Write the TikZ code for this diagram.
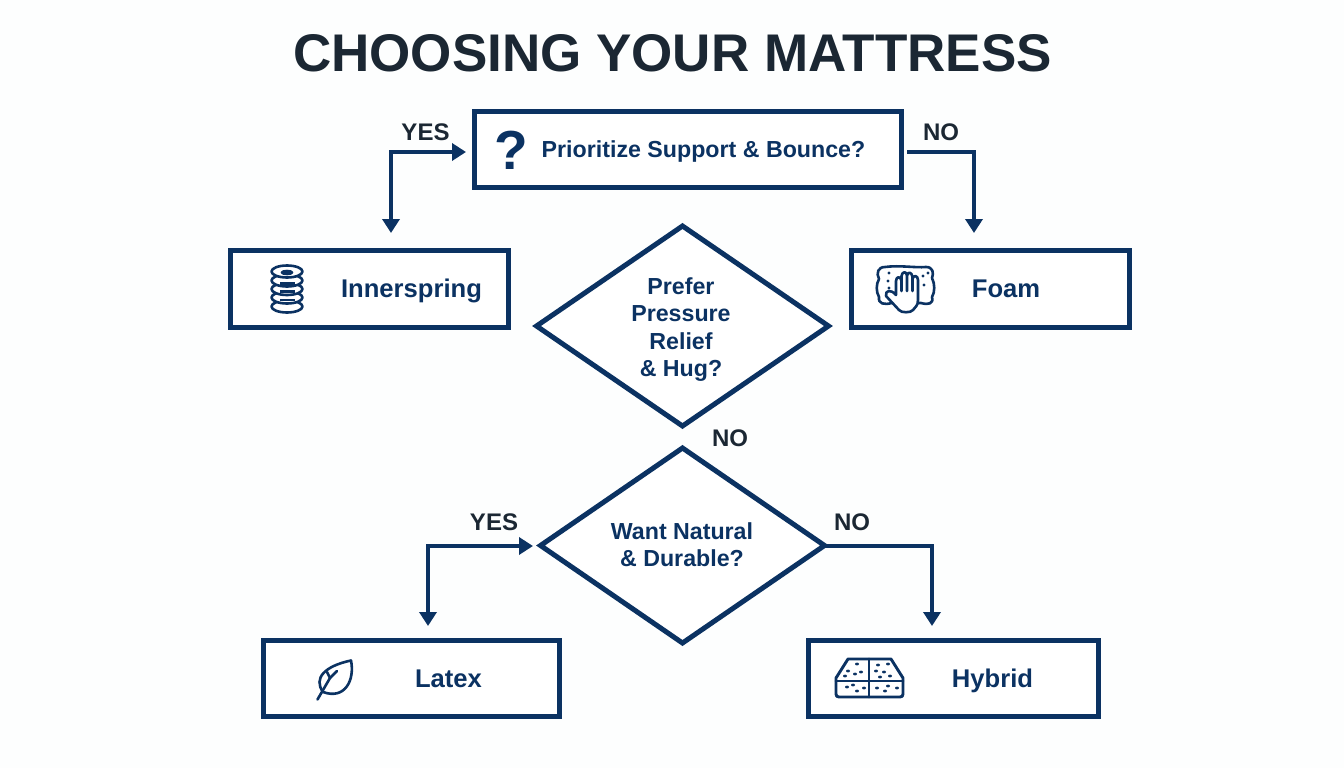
\documentclass[tikz,border=0pt]{standalone}
\usepackage{fontspec}
\setmainfont{Liberation Sans}
\usetikzlibrary{shapes.geometric,arrows.meta}
\definecolor{navy}{HTML}{0B3262}
\definecolor{ink}{HTML}{1B2733}
\definecolor{paper}{HTML}{FDFEFE}
\newcommand{\fs}[1]{\fontsize{#1}{#1}\selectfont\bfseries}
\tikzset{
  x=1pt,y=-1pt,
  box/.style={draw=navy,line width=5pt,fill=white,rectangle,inner sep=0pt,outer sep=0pt,text=navy},
  choice/.style={draw=navy,line width=5pt,fill=white,diamond,inner sep=0pt,outer sep=0pt,align=center,text=navy,aspect=1.45},
  tag/.style={text=ink,inner sep=0pt,font=\fs{24}},
  label/.style={text=navy,inner sep=0pt,anchor=base,font=\fs{25.6}},
  ask/.style={text=navy,inner sep=0pt,align=center,font=\fontsize{23.2}{27.3}\selectfont\bfseries},
  flow/.style={draw=navy,line width=4.8pt,{Triangle[length=14pt,width=17pt]}-{Triangle[length=14pt,width=17pt]}},
  flowone/.style={draw=navy,line width=4.8pt,-{Triangle[length=14pt,width=17pt]}},
  ico/.style={draw=navy,line width=2.6pt,line join=round,line cap=round},
  dot/.style={fill=navy,draw=none},
}
\begin{document}
\begin{tikzpicture}
\useasboundingbox (0,0) rectangle (1344,768);
\fill[paper] (0,0) rectangle (1344,768);
\node[text=ink,font=\fs{53}] (title) at (672.5,53) {CHOOSING YOUR MATTRESS};

\node[box,minimum width=427pt,minimum height=76pt] (top) at (688,149.5) {};
\node[box,minimum width=278pt,minimum height=77pt] (inner) at (369.5,289) {};
\node[box,minimum width=278pt,minimum height=77pt] (foam) at (990.5,289) {};
\node[box,minimum width=296pt,minimum height=76pt] (latex) at (411.5,678.5) {};
\node[box,minimum width=290pt,minimum height=76pt] (hybrid) at (953.5,678.5) {};
\node[choice,minimum width=292pt,minimum height=200pt] (d1) at (682.5,326) {};
\node[choice,minimum width=284pt,minimum height=195pt] (d2) at (682.5,545.5) {};

\node[label,font=\fs{23.2}] (toptext) at (703.5,157) {Prioritize Support \& Bounce?};
\node[text=navy,inner sep=0pt,font=\fs{55}] (qm) at (511,150) {?};
\node[label] (innertext) at (411.5,297.5) {Innerspring};
\node[label] (foamtext) at (1006,297.5) {Foam};
\node[label] (latextext) at (448.5,687.5) {Latex};
\node[label] (hybridtext) at (992.5,687.5) {Hybrid};
\node[ask] (d1text) at (681,329.5) {Prefer\\Pressure\\Relief\\\& Hug?};
\node[ask] (d2text) at (682,544.5) {Want Natural\\\& Durable?};

\node[tag] (l1) at (425.5,132) {YES};
\node[tag] (l2) at (941,132) {NO};
\node[tag] (l3) at (730,438) {NO};
\node[tag] (l4) at (494,522) {YES};
\node[tag] (l5) at (852,522) {NO};

\draw[flow] ([shift={(-8.5,2.5)}]top.west) -| ([shift={(21.5,-17.5)}]inner.north);
\draw[flowone] ([shift={(5.5,2.5)}]top.east) -| ([shift={(-16.5,-17.5)}]foam.north);
\draw[flow] ([shift={(-7.5,0.5)}]d2.west) -| ([shift={(16.5,-14.5)}]latex.north);
\draw[flowone] ([shift={(0,0.5)}]d2.east) -| ([shift={(-21.5,-14.5)}]hybrid.north);

% innerspring coil icon
\foreach \yy in {306.5,297.5,289,280.5} {
  \draw[ico,fill=white] (287,\yy) ellipse [x radius=15.5pt,y radius=6pt];
}
\draw[ico,fill=white] (287,271.5) ellipse [x radius=15.5pt,y radius=6pt];
\draw[ico] (287,272.5) ellipse [x radius=5pt,y radius=1.5pt];
\foreach \yy in {283.5,291.5,300} { \draw[navy,line width=2.8pt] (280,\yy) -- (295,\yy); }
% foam icon
\draw[ico,fill=white] (885,267) .. controls (900,265) and (915,268) .. (926,267)
  .. controls (933,267) and (934,273) .. (932,278)
  .. controls (935,284) and (935,292) .. (932,297)
  .. controls (934,304) and (928,305) .. (921,303)
  -- (892,303) .. controls (884,305) and (878,304) .. (879,297)
  .. controls (876,292) and (876,284) .. (879,279)
  .. controls (876,273) and (878,267) .. (885,267) -- cycle;
\draw[ico,fill=white] (886,296) .. controls (885,290) and (891,289) .. (896,295)
  -- (896,281) .. controls (896,276) and (901,276) .. (901.5,281) -- (901.5,276)
  .. controls (902,271) and (907,271) .. (907,276) -- (907,291) -- (907,276)
  .. controls (907.5,271) and (912,272) .. (912.5,277) -- (912.5,291) -- (912.5,279)
  .. controls (913,275) and (918,275) .. (918,280) -- (918,300)
  .. controls (918,306) and (915,307) .. (913,310)
  .. controls (911,313) and (901,313) .. (899,310) -- cycle;
\draw[ico] (901.5,281) -- (901.5,291);
\foreach \p in {(889,273),(888,281),(889,288),(924,285),(923,276),(928,273)} { \fill[dot] \p circle (1.7pt); }
% leaf icon
\draw[ico] (317.5,699.5) -- (330,678);
\draw[ico] (323,692) .. controls (313,678) and (325,666) .. (351,660.5)
  .. controls (355,680) and (345,700) .. (323,692) -- cycle;
\draw[ico] (330,678) -- (327,672);
\draw[ico] (330,678) -- (337,671);
% hybrid mattress icon
\draw[ico,line width=2.9pt] (850,659) -- (891,659) -- (903,678) -- (903,694) .. controls (903,696) and (902,697) .. (900,697) -- (839,697)
  .. controls (837,697) and (836,696) .. (836,694) -- (836,678) -- (848,659) -- cycle;
\draw[ico,line width=2.9pt] (836,681) -- (903,681);
\draw[ico,line width=2.9pt] (869,659) -- (869,697);
\foreach \p in {(857,664),(848,671),(855,674),(861,672),(845,676),(878,665),(888,664),(884,672),(876,671),(890,676),(880,677),(847,687),(857,691),(864,688),(853,685),(877,688),(885,691),(897,688),(888,686)} { \fill[dot] \p ellipse [x radius=2pt,y radius=1.4pt]; }
\end{tikzpicture}
\end{document}
